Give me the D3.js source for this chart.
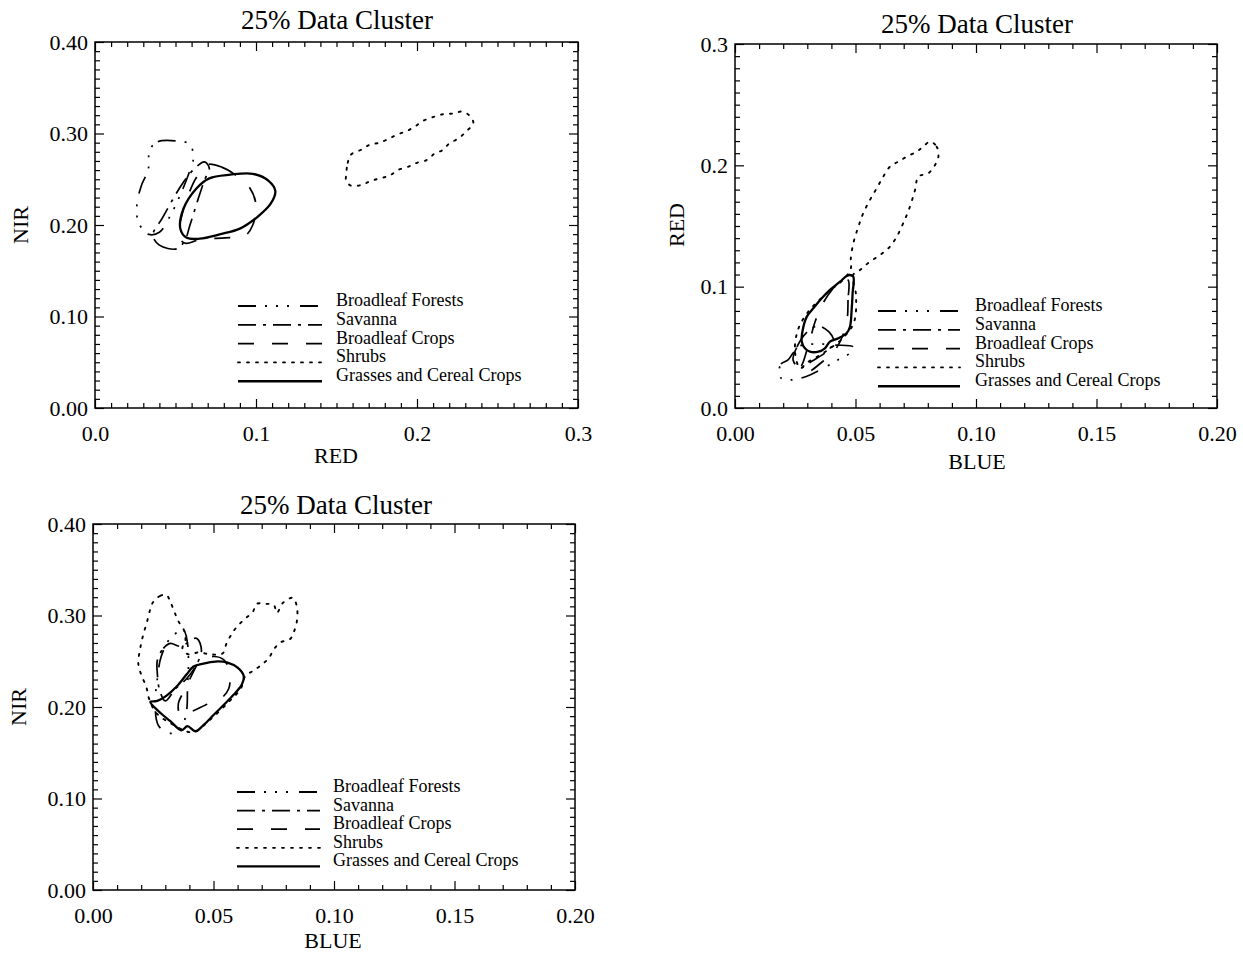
<!DOCTYPE html>
<html>
<head>
<meta charset="utf-8">
<script src="https://cdn.jsdelivr.net/npm/d3@7"></script>
<style>
  body { margin: 0; background: #fff; }
</style>
</head>
<body>
<svg id="fig" width="1243" height="953"></svg>
<script>
// ---- Legend / class definitions ----
const classLabels = ["Broadleaf Forests", "Savanna", "Broadleaf Crops", "Shrubs", "Grasses and Cereal Crops"];
const classKeys = ["forests", "savanna", "crops", "shrubs", "grasses"];
const titleText = "25% Data Cluster";
const SERIF = "'Liberation Serif', 'DejaVu Serif', 'Times New Roman', serif";

// ---- Tick values ----
const nirTicks = [0, 0.1, 0.2, 0.3, 0.4];
const redTicksX = [0, 0.1, 0.2, 0.3];
const redTicksY = [0, 0.1, 0.2, 0.3];
const blueTicks = [0, 0.05, 0.1, 0.15, 0.2];

// ---- 25% data cluster contours: RED (x) vs NIR (y) ----
const redNirForests = [[0.034,0.282],[0.039,0.291],[0.050,0.292],[0.059,0.288],[0.061,0.271],[0.058,0.255],[0.053,0.233],[0.047,0.211],[0.040,0.192],[0.033,0.190],[0.027,0.203],[0.026,0.222],[0.029,0.244],[0.033,0.260]];
const redNirSavanna = [[0.036,0.189],[0.040,0.178],[0.051,0.174],[0.056,0.184],[0.059,0.200],[0.064,0.228],[0.068,0.249],[0.071,0.262],[0.068,0.269],[0.062,0.262],[0.055,0.247],[0.048,0.227],[0.042,0.208]];
const redNirCrops = [[0.070,0.266],[0.079,0.263],[0.087,0.255],[0.096,0.241],[0.100,0.222],[0.098,0.200],[0.093,0.188],[0.081,0.186],[0.065,0.184],[0.056,0.180],[0.052,0.188],[0.054,0.211],[0.058,0.233],[0.063,0.252]];
const redNirShrubs = [[0.156,0.255],[0.157,0.268],[0.159,0.277],[0.165,0.282],[0.171,0.288],[0.177,0.290],[0.182,0.294],[0.188,0.299],[0.194,0.303],[0.199,0.308],[0.204,0.314],[0.210,0.318],[0.216,0.321],[0.223,0.322],[0.228,0.324],[0.233,0.319],[0.235,0.311],[0.231,0.303],[0.226,0.295],[0.220,0.289],[0.216,0.282],[0.211,0.278],[0.206,0.271],[0.200,0.268],[0.195,0.264],[0.188,0.260],[0.183,0.254],[0.177,0.251],[0.171,0.248],[0.166,0.244],[0.159,0.243],[0.156,0.248]];
const redNirGrasses = [[0.053,0.196],[0.055,0.218],[0.063,0.240],[0.071,0.251],[0.084,0.255],[0.098,0.256],[0.108,0.248],[0.112,0.237],[0.109,0.223],[0.101,0.209],[0.090,0.196],[0.078,0.190],[0.065,0.185],[0.057,0.186]];

// ---- BLUE (x) vs RED (y) ----
const blueRedForests = [[0.0183,0.0297],[0.0191,0.0363],[0.0220,0.0396],[0.0241,0.0453],[0.0270,0.0511],[0.0332,0.0528],[0.0415,0.0519],[0.0490,0.0503],[0.0477,0.0453],[0.0427,0.0396],[0.0361,0.0322],[0.0290,0.0256],[0.0228,0.0231],[0.0191,0.0247]];
const blueRedSavanna = [[0.0241,0.0396],[0.0257,0.0503],[0.0295,0.0618],[0.0344,0.0676],[0.0390,0.0627],[0.0411,0.0544],[0.0378,0.0462],[0.0320,0.0387],[0.0270,0.0330]];
const blueRedCrops = [[0.0469,0.1055],[0.0469,0.0890],[0.0465,0.0725],[0.0448,0.0602],[0.0415,0.0478],[0.0361,0.0379],[0.0303,0.0297],[0.0270,0.0297],[0.0286,0.0396],[0.0311,0.0561],[0.0332,0.0709],[0.0361,0.0849],[0.0402,0.0973],[0.0436,0.1039]];
const blueRedShrubs = [[0.0809,0.2195],[0.0837,0.2154],[0.0844,0.2072],[0.0830,0.2003],[0.0802,0.1935],[0.0761,0.1907],[0.0747,0.1797],[0.0726,0.1660],[0.0698,0.1523],[0.0671,0.1412],[0.0643,0.1330],[0.0602,0.1261],[0.0560,0.1206],[0.0519,0.1138],[0.0490,0.1096],[0.0502,0.0932],[0.0494,0.0709],[0.0448,0.0577],[0.0373,0.0462],[0.0303,0.0379],[0.0270,0.0330],[0.0249,0.0462],[0.0261,0.0643],[0.0303,0.0791],[0.0373,0.0932],[0.0456,0.1072],[0.0481,0.1154],[0.0480,0.1220],[0.0491,0.1358],[0.0512,0.1495],[0.0532,0.1605],[0.0560,0.1715],[0.0588,0.1811],[0.0615,0.1907],[0.0643,0.1989],[0.0678,0.2031],[0.0713,0.2072],[0.0754,0.2113],[0.0781,0.2154]];
const blueRedGrasses = [[0.0477,0.1096],[0.0491,0.1082],[0.0488,0.0946],[0.0484,0.0808],[0.0477,0.0670],[0.0463,0.0616],[0.0429,0.0575],[0.0394,0.0547],[0.0373,0.0492],[0.0346,0.0464],[0.0311,0.0464],[0.0290,0.0492],[0.0277,0.0547],[0.0281,0.0643],[0.0298,0.0753],[0.0325,0.0822],[0.0360,0.0904],[0.0394,0.0973],[0.0436,0.1041],[0.0463,0.1088]];

// ---- BLUE (x) vs NIR (y) ----
const blueNirForests = [[0.0321,0.2751],[0.0375,0.2840],[0.0392,0.2696],[0.0396,0.2475],[0.0392,0.2199],[0.0388,0.1956],[0.0363,0.1757],[0.0313,0.1713],[0.0271,0.1801],[0.0258,0.2033],[0.0267,0.2309],[0.0283,0.2552]];
const blueNirSavanna = [[0.0267,0.2508],[0.0292,0.2641],[0.0321,0.2696],[0.0363,0.2663],[0.0429,0.2751],[0.0450,0.2619],[0.0425,0.2442],[0.0388,0.2309],[0.0342,0.2199],[0.0300,0.2066],[0.0275,0.2199],[0.0267,0.2365]];
const blueNirCrops = [[0.0446,0.2508],[0.0504,0.2552],[0.0546,0.2508],[0.0567,0.2365],[0.0563,0.2199],[0.0529,0.2088],[0.0467,0.2022],[0.0413,0.1956],[0.0363,0.1912],[0.0354,0.2033],[0.0383,0.2199],[0.0413,0.2365]];
const blueNirShrubs = [[0.0250,0.3149],[0.0279,0.3215],[0.0304,0.3227],[0.0321,0.3149],[0.0338,0.3039],[0.0354,0.2939],[0.0379,0.2829],[0.0383,0.2718],[0.0371,0.2641],[0.0396,0.2575],[0.0438,0.2597],[0.0488,0.2575],[0.0538,0.2586],[0.0554,0.2696],[0.0575,0.2796],[0.0596,0.2873],[0.0629,0.2961],[0.0663,0.3039],[0.0679,0.3127],[0.0713,0.3127],[0.0750,0.3116],[0.0763,0.3028],[0.0788,0.3138],[0.0829,0.3193],[0.0846,0.3094],[0.0846,0.2939],[0.0833,0.2818],[0.0817,0.2740],[0.0779,0.2707],[0.0750,0.2630],[0.0729,0.2530],[0.0700,0.2464],[0.0667,0.2398],[0.0633,0.2343],[0.0613,0.2199],[0.0563,0.2055],[0.0488,0.1867],[0.0413,0.1724],[0.0329,0.1812],[0.0263,0.1934],[0.0233,0.2088],[0.0221,0.2221],[0.0200,0.2354],[0.0188,0.2475],[0.0196,0.2641],[0.0208,0.2785],[0.0225,0.2939],[0.0238,0.3072]];
const blueNirGrasses = [[0.0238,0.2055],[0.0271,0.1956],[0.0321,0.1845],[0.0367,0.1746],[0.0392,0.1790],[0.0425,0.1735],[0.0458,0.1801],[0.0500,0.1912],[0.0542,0.2022],[0.0583,0.2133],[0.0617,0.2243],[0.0625,0.2343],[0.0600,0.2431],[0.0558,0.2486],[0.0508,0.2497],[0.0458,0.2475],[0.0417,0.2442],[0.0388,0.2354],[0.0346,0.2221],[0.0304,0.2122],[0.0267,0.2066]];

// ---- Line styles per class ----
const dashOf = { forests: "18,9,2,9,2,9,2,11", savanna: "18,7,3,7", crops: "16,18", shrubs: "2,7", grasses: null };
const widthOf = { forests: 1.7, savanna: 1.7, crops: 1.7, shrubs: 1.9, grasses: 2.3 };

// ---- Panel layout ----
const panels = [
  {
    xDomain: [0, 0.3], xRange: [95, 578], yDomain: [0, 0.4], yRange: [408, 42],
    xTicks: redTicksX, xFmt: ".1f", yTicks: nirTicks, yFmt: ".2f",
    xLabel: "RED", yLabel: "NIR",
    titlePos: [337, 29], xLabelPos: [336, 463], yLabelPos: [28, 225],
    legend: { x0: 238, x1: 322, tx: 336, y0: 306, dy: 18.8 },
    contours: { forests: [redNirForests], savanna: [redNirSavanna], crops: [redNirCrops], shrubs: [redNirShrubs], grasses: [redNirGrasses] }
  },
  {
    xDomain: [0, 0.2], xRange: [735, 1217], yDomain: [0, 0.3], yRange: [408, 44],
    xTicks: blueTicks, xFmt: ".2f", yTicks: redTicksY, yFmt: ".1f",
    xLabel: "BLUE", yLabel: "RED",
    titlePos: [977, 33], xLabelPos: [977, 469], yLabelPos: [684, 225],
    legend: { x0: 878, x1: 960, tx: 975, y0: 311, dy: 18.8 },
    contours: { forests: [blueRedForests], savanna: [blueRedSavanna], crops: [blueRedCrops], shrubs: [blueRedShrubs], grasses: [blueRedGrasses] }
  },
  {
    xDomain: [0, 0.2], xRange: [93, 575], yDomain: [0, 0.4], yRange: [890, 524],
    xTicks: blueTicks, xFmt: ".2f", yTicks: nirTicks, yFmt: ".2f",
    xLabel: "BLUE", yLabel: "NIR",
    titlePos: [336, 514], xLabelPos: [333, 948], yLabelPos: [26, 707],
    legend: { x0: 237, x1: 320, tx: 333, y0: 792, dy: 18.6 },
    contours: { forests: [blueNirForests], savanna: [blueNirSavanna], crops: [blueNirCrops], shrubs: [blueNirShrubs], grasses: [blueNirGrasses] }
  }
];

const svg = d3.select("#fig");
svg.append("rect").attr("width", 1243).attr("height", 953).attr("fill", "#fff");

function minorValues(domain, step, majors) {
  const out = [];
  const n = Math.round((domain[1] - domain[0]) / step);
  for (let i = 0; i <= n; i++) {
    const v = +(domain[0] + i * step).toFixed(6);
    if (!majors.some(m => Math.abs(m - v) < 1e-9)) out.push(v);
  }
  return out;
}

function styleAxis(sel) {
  sel.select(".domain").remove();
  sel.attr("font-family", SERIF).attr("font-size", 22);
  sel.selectAll(".tick line").attr("stroke", "#000").attr("stroke-width", 1.2);
  sel.selectAll(".tick text").attr("font-family", SERIF).attr("font-size", 22).attr("fill", "#000");
}

function addText(g, x, y, size, str, anchor) {
  return g.append("text").attr("x", x).attr("y", y)
    .attr("font-family", SERIF).attr("font-size", size).attr("fill", "#000")
    .attr("text-anchor", anchor || "start").text(str);
}

function drawPanel(p) {
  const x = d3.scaleLinear().domain(p.xDomain).range(p.xRange);
  const y = d3.scaleLinear().domain(p.yDomain).range(p.yRange);
  const g = svg.append("g");
  const [xl, xr] = p.xRange, [yb, yt] = p.yRange;

  const xMinor = minorValues(p.xDomain, 0.01, p.xTicks);
  const yMinor = minorValues(p.yDomain, 0.01, p.yTicks);

  // bottom axis: labelled majors + minors, ticks pointing inward
  g.append("g").attr("transform", `translate(0,${yb})`)
    .call(d3.axisBottom(x).tickValues(p.xTicks).tickFormat(d3.format(p.xFmt)).tickSizeInner(-9).tickSizeOuter(0).tickPadding(17))
    .call(styleAxis);
  g.append("g").attr("transform", `translate(0,${yb})`)
    .call(d3.axisBottom(x).tickValues(xMinor).tickFormat("").tickSizeInner(-5).tickSizeOuter(0))
    .call(styleAxis);
  // top mirror
  g.append("g").attr("transform", `translate(0,${yt})`)
    .call(d3.axisTop(x).tickValues(p.xTicks).tickFormat("").tickSizeInner(-9).tickSizeOuter(0))
    .call(styleAxis);
  g.append("g").attr("transform", `translate(0,${yt})`)
    .call(d3.axisTop(x).tickValues(xMinor).tickFormat("").tickSizeInner(-5).tickSizeOuter(0))
    .call(styleAxis);
  // left axis
  g.append("g").attr("transform", `translate(${xl},0)`)
    .call(d3.axisLeft(y).tickValues(p.yTicks).tickFormat(d3.format(p.yFmt)).tickSizeInner(-9).tickSizeOuter(0).tickPadding(7))
    .call(styleAxis);
  g.append("g").attr("transform", `translate(${xl},0)`)
    .call(d3.axisLeft(y).tickValues(yMinor).tickFormat("").tickSizeInner(-5).tickSizeOuter(0))
    .call(styleAxis);
  // right mirror
  g.append("g").attr("transform", `translate(${xr},0)`)
    .call(d3.axisRight(y).tickValues(p.yTicks).tickFormat("").tickSizeInner(-9).tickSizeOuter(0))
    .call(styleAxis);
  g.append("g").attr("transform", `translate(${xr},0)`)
    .call(d3.axisRight(y).tickValues(yMinor).tickFormat("").tickSizeInner(-5).tickSizeOuter(0))
    .call(styleAxis);

  // frame
  g.append("rect").attr("x", xl).attr("y", yt).attr("width", xr - xl).attr("height", yb - yt)
    .attr("fill", "none").attr("stroke", "#000").attr("stroke-width", 1.5);

  // contours
  const line = d3.line().x(d => x(d[0])).y(d => y(d[1])).curve(d3.curveCatmullRomClosed.alpha(0.5));
  classKeys.forEach(k => {
    (p.contours[k] || []).forEach(poly => {
      g.append("path").attr("d", line(poly))
        .attr("fill", "none").attr("stroke", "#000")
        .attr("stroke-width", widthOf[k])
        .attr("stroke-linecap", k === "shrubs" ? "round" : "butt")
        .attr("stroke-linejoin", "round")
        .attr("stroke-dasharray", dashOf[k]);
    });
  });

  // legend
  const L = p.legend;
  classKeys.forEach((k, i) => {
    const yy = L.y0 + i * L.dy;
    g.append("line").attr("x1", L.x0).attr("x2", L.x1).attr("y1", yy).attr("y2", yy)
      .attr("stroke", "#000").attr("stroke-width", k === "grasses" ? 2.4 : 1.8)
      .attr("stroke-linecap", k === "shrubs" ? "round" : "butt")
      .attr("stroke-dasharray", dashOf[k]);
    addText(g, L.tx, yy, 18, classLabels[i]);
  });

  // titles
  addText(g, p.titlePos[0], p.titlePos[1], 27, titleText, "middle");
  addText(g, p.xLabelPos[0], p.xLabelPos[1], 22, p.xLabel, "middle");
  g.append("text").attr("transform", `translate(${p.yLabelPos[0]},${p.yLabelPos[1]}) rotate(-90)`)
    .attr("font-family", SERIF).attr("font-size", 22).attr("fill", "#000")
    .attr("text-anchor", "middle").text(p.yLabel);
}

panels.forEach(drawPanel);
</script>
</body>
</html>
